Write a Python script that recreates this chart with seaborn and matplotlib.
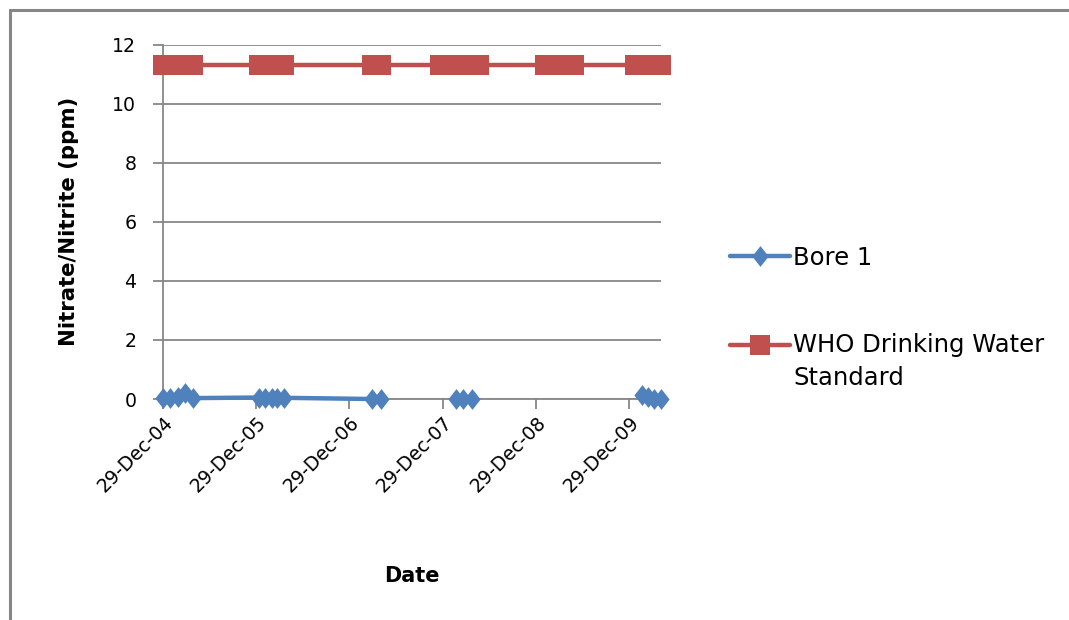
import numpy as np
import pandas as pd
import matplotlib
matplotlib.use("Agg")
import matplotlib.pyplot as plt
import matplotlib.dates as mdates
from matplotlib.ticker import FixedLocator
from matplotlib.lines import Line2D
from matplotlib.legend_handler import HandlerLine2D
from matplotlib.patches import Rectangle
from matplotlib.path import Path
import seaborn as sns

# ---- data -------------------------------------------------------------
sample_dates = [
    "2004-12-29", "2005-01-27", "2005-02-24", "2005-03-24", "2005-04-25",
    "2006-01-10", "2006-02-02", "2006-02-28", "2006-03-22", "2006-04-17",
    "2007-03-26", "2007-04-30",
    "2007-12-17", "2008-01-17", "2008-02-18", "2008-03-19", "2008-04-21", "2008-05-21",
    "2009-01-31", "2009-02-26", "2009-03-26", "2009-04-28", "2009-05-28",
    "2010-01-22", "2010-02-16", "2010-03-11", "2010-04-06", "2010-05-02",
]
bore1_ppm = [
    0.05, 0.04, 0.06, 0.20, 0.03,
    0.05, 0.04, 0.05, 0.04, 0.04,
    0.00, 0.00,
    np.nan, np.nan, 0.00, 0.00, 0.00, np.nan,
    np.nan, np.nan, np.nan, np.nan, np.nan,
    np.nan, 0.12, 0.06, 0.00, 0.00,
]
who_limit_ppm = 11.3
tick_dates = ["2004-12-29", "2005-12-29", "2006-12-29",
              "2007-12-29", "2008-12-29", "2009-12-29"]
y_ticks = [0, 2, 4, 6, 8, 10, 12]

series_labels = ["Bore 1", "WHO Drinking Water\nStandard"]
x_title = "Date"
y_title = "Nitrate/Nitrite (ppm)"

BLUE = "#4F81BD"
RED = "#C0504D"
GREY = "#878787"

# ---- style ------------------------------------------------------------
sns.set_style("white")
plt.rcParams["font.family"] = ["DejaVu Sans"]
plt.rcParams["text.color"] = "black"
plt.rcParams["axes.labelcolor"] = "black"

dates = pd.to_datetime(sample_dates)
bore = pd.DataFrame({"date": dates, "ppm": bore1_ppm})
# blank readings break the line into separate runs
bore["run"] = bore["ppm"].isna().cumsum()
bore = bore.dropna()
who = pd.DataFrame({"date": dates, "ppm": [who_limit_ppm] * len(dates)})

fig = plt.figure(figsize=(10.69, 6.2), dpi=100)
ax = fig.add_axes([0.15248, 0.35645, 0.46586, 0.57145])

diamond = Path([(0, 1), (0.78, 0), (0, -1), (-0.78, 0), (0, 1)],
               [Path.MOVETO, Path.LINETO, Path.LINETO, Path.LINETO, Path.CLOSEPOLY])

sns.lineplot(data=bore, x="date", y="ppm", units="run", estimator=None,
             sort=False, color=BLUE, lw=3.2, marker=diamond, ms=15,
             mew=0, mfc=BLUE, legend=False, clip_on=False, zorder=4, ax=ax)
sns.lineplot(data=who, x="date", y="ppm", estimator=None, sort=False,
             color=RED, lw=3.2, marker="s", ms=14, mew=0, mfc=RED,
             legend=False, clip_on=False, zorder=4, ax=ax)

# ---- axes -------------------------------------------------------------
ax.set_ylim(0, 12)
ax.set_yticks(y_ticks)
ax.set_xlim(dates[0], dates[-1])
ax.xaxis.set_major_locator(FixedLocator(mdates.date2num(pd.to_datetime(tick_dates))))
ax.xaxis.set_major_formatter(mdates.DateFormatter("%d-%b-%y"))

ax.grid(axis="y", color=GREY, lw=1.3)
ax.grid(axis="x", visible=False)
ax.set_axisbelow(True)
for side in ("top", "right"):
    ax.spines[side].set_visible(False)
for side in ("left", "bottom"):
    ax.spines[side].set_color(GREY)
    ax.spines[side].set_linewidth(1.3)

ax.tick_params(axis="y", direction="out", length=7.2, width=1.3, color=GREY,
               labelsize=13.6, labelcolor="black", pad=12, left=True)
ax.tick_params(axis="x", direction="out", length=7.2, width=1.3, color=GREY,
               labelsize=13.6, labelcolor="black", pad=3, bottom=True)
for lab in ax.get_xticklabels():
    lab.set_rotation(45)
    lab.set_ha("right")
    lab.set_va("top")
    lab.set_rotation_mode("anchor")

ax.set_xlabel(x_title, fontsize=15, fontweight="bold", labelpad=50)
ax.set_ylabel(y_title, fontsize=15.3, fontweight="bold", labelpad=24)


# ---- legend -----------------------------------------------------------
class FirstLineHandler(HandlerLine2D):
    """Places the legend key beside the first line of a wrapped label."""

    def __init__(self, lift_pts, **kw):
        super().__init__(**kw)
        self.lift_pts = lift_pts

    def create_artists(self, legend, orig_handle, xdescent, ydescent,
                       width, height, fontsize, trans):
        return super().create_artists(legend, orig_handle, xdescent,
                                      ydescent - 2 * self.lift_pts,
                                      width, height, fontsize, trans)


bore_key = Line2D([], [], color=BLUE, lw=3.2, marker=diamond, ms=15, mew=0)
who_key = Line2D([], [], color=RED, lw=3.2, marker="s", ms=14, mew=0)
leg = ax.legend([bore_key, who_key], series_labels, loc="upper left",
                bbox_to_anchor=(730 / 1069, 1 - 246 / 620),
                bbox_transform=fig.transFigure, frameon=False, fontsize=17.5,
                handlelength=2.45, handletextpad=0.15, labelspacing=2.6,
                borderaxespad=0, borderpad=0,
                handler_map={who_key: FirstLineHandler(12.6)})
for t in leg.get_texts():
    t.set_linespacing(1.45)
    t.set_color("black")

# outer chart frame
fig.add_artist(Rectangle((10 / 1069, -0.2), 1.3, 1.2 - 10 / 620,
                         transform=fig.transFigure, fill=False,
                         edgecolor=GREY, lw=2.2, clip_on=False))

fig.savefig("out.png", dpi=100)
